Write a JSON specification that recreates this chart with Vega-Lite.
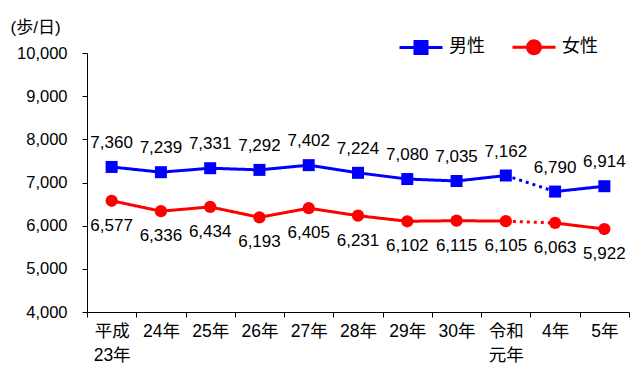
{
  "$schema": "https://vega.github.io/schema/vega-lite/v6.json",
  "width": 542,
  "height": 259,
  "autosize": {"type": "none"},
  "padding": {"left": 87, "top": 53, "right": 2, "bottom": 57},
  "background": "white",
  "config": {
    "font": "Liberation Sans, Noto Sans CJK JP",
    "view": {"stroke": null},
    "axis": {"domainColor": "black", "tickColor": "black", "labelColor": "black", "titleColor": "black", "grid": false, "labelFont": "Liberation Sans, Noto Sans CJK JP", "titleFont": "Liberation Sans, Noto Sans CJK JP"}
  },
  "resolve": {"legend": {"color": "independent"}},
  "datasets": {
    "pts": [
      {"year": "平成23年", "series": "男性", "steps": 7360},
      {"year": "24年", "series": "男性", "steps": 7239},
      {"year": "25年", "series": "男性", "steps": 7331},
      {"year": "26年", "series": "男性", "steps": 7292},
      {"year": "27年", "series": "男性", "steps": 7402},
      {"year": "28年", "series": "男性", "steps": 7224},
      {"year": "29年", "series": "男性", "steps": 7080},
      {"year": "30年", "series": "男性", "steps": 7035},
      {"year": "令和元年", "series": "男性", "steps": 7162},
      {"year": "4年", "series": "男性", "steps": 6790},
      {"year": "5年", "series": "男性", "steps": 6914},
      {"year": "平成23年", "series": "女性", "steps": 6577},
      {"year": "24年", "series": "女性", "steps": 6336},
      {"year": "25年", "series": "女性", "steps": 6434},
      {"year": "26年", "series": "女性", "steps": 6193},
      {"year": "27年", "series": "女性", "steps": 6405},
      {"year": "28年", "series": "女性", "steps": 6231},
      {"year": "29年", "series": "女性", "steps": 6102},
      {"year": "30年", "series": "女性", "steps": 6115},
      {"year": "令和元年", "series": "女性", "steps": 6105},
      {"year": "4年", "series": "女性", "steps": 6063},
      {"year": "5年", "series": "女性", "steps": 5922}
    ],
    "lines": [
      {"year": "平成23年", "series": "男性", "steps": 7360, "seg": "a", "style": "solid"},
      {"year": "24年", "series": "男性", "steps": 7239, "seg": "a", "style": "solid"},
      {"year": "25年", "series": "男性", "steps": 7331, "seg": "a", "style": "solid"},
      {"year": "26年", "series": "男性", "steps": 7292, "seg": "a", "style": "solid"},
      {"year": "27年", "series": "男性", "steps": 7402, "seg": "a", "style": "solid"},
      {"year": "28年", "series": "男性", "steps": 7224, "seg": "a", "style": "solid"},
      {"year": "29年", "series": "男性", "steps": 7080, "seg": "a", "style": "solid"},
      {"year": "30年", "series": "男性", "steps": 7035, "seg": "a", "style": "solid"},
      {"year": "令和元年", "series": "男性", "steps": 7162, "seg": "a", "style": "solid"},
      {"year": "令和元年", "series": "男性", "steps": 7162, "seg": "b", "style": "dotted"},
      {"year": "4年", "series": "男性", "steps": 6790, "seg": "b", "style": "dotted"},
      {"year": "4年", "series": "男性", "steps": 6790, "seg": "c", "style": "solid"},
      {"year": "5年", "series": "男性", "steps": 6914, "seg": "c", "style": "solid"},
      {"year": "平成23年", "series": "女性", "steps": 6577, "seg": "a", "style": "solid"},
      {"year": "24年", "series": "女性", "steps": 6336, "seg": "a", "style": "solid"},
      {"year": "25年", "series": "女性", "steps": 6434, "seg": "a", "style": "solid"},
      {"year": "26年", "series": "女性", "steps": 6193, "seg": "a", "style": "solid"},
      {"year": "27年", "series": "女性", "steps": 6405, "seg": "a", "style": "solid"},
      {"year": "28年", "series": "女性", "steps": 6231, "seg": "a", "style": "solid"},
      {"year": "29年", "series": "女性", "steps": 6102, "seg": "a", "style": "solid"},
      {"year": "30年", "series": "女性", "steps": 6115, "seg": "a", "style": "solid"},
      {"year": "令和元年", "series": "女性", "steps": 6105, "seg": "a", "style": "solid"},
      {"year": "令和元年", "series": "女性", "steps": 6105, "seg": "b", "style": "dotted"},
      {"year": "4年", "series": "女性", "steps": 6063, "seg": "b", "style": "dotted"},
      {"year": "4年", "series": "女性", "steps": 6063, "seg": "c", "style": "solid"},
      {"year": "5年", "series": "女性", "steps": 5922, "seg": "c", "style": "solid"}
    ]
  },
  "encoding": {
    "x": {
      "field": "year", "type": "nominal",
      "scale": {"type": "band", "domain": ["平成23年", "24年", "25年", "26年", "27年", "28年", "29年", "30年", "令和元年", "4年", "5年"], "paddingInner": 0, "paddingOuter": 0},
      "axis": {
        "title": null, "labelAngle": 0, "tickBand": "extent", "tickSize": 5, "labelPadding": 5,
        "labelFontSize": 17.5, "labelLineHeight": 24, "labelBaseline": "top",
        "labelExpr": "datum.value == '平成23年' ? ['平成', '23年'] : datum.value == '令和元年' ? ['令和', '元年'] : datum.value"
      }
    },
    "y": {
      "field": "steps", "type": "quantitative",
      "scale": {"domain": [4000, 10000], "nice": false, "zero": false},
      "axis": {
        "values": [4000, 5000, 6000, 7000, 8000, 9000, 10000], "format": ",.0f", "tickSize": 5, "labelPadding": 15, "labelFontSize": 16.5,
        "title": "(歩/日)", "titleAngle": 0, "titleAlign": "left", "titleBaseline": "middle", "titleX": -77, "titleY": -26, "titleFontSize": 17, "titleFontWeight": "normal"
      }
    }
  },
  "layer": [
    {
      "data": {"name": "lines"},
      "mark": {"type": "line", "strokeWidth": 3},
      "encoding": {
        "color": {
          "field": "series", "type": "nominal",
          "scale": {"domain": ["男性", "女性"], "range": ["#0000ff", "#ff0000"]},
          "legend": {
            "title": null, "orient": "none", "legendX": 311, "legendY": -29, "direction": "horizontal",
            "symbolSize": 1849, "symbolStrokeWidth": 3, "labelFontSize": 18, "labelOffset": 5, "columnPadding": 21, "labelColor": "black",
            "labelFont": "Liberation Sans, Noto Sans CJK JP",
            "encode": {
              "symbols": {
                "update": {
                  "shape": {"signal": "datum.value == '男性' ? 'M-1,0H1M-0.28,-0.28H0.28V0.28H-0.28Z' : 'M-1,0H1M0.3,0A0.3,0.3 0 1 1 -0.3,0A0.3,0.3 0 1 1 0.3,0Z'"},
                  "stroke": {"signal": "datum.value == '男性' ? '#0000ff' : '#ff0000'"},
                  "fill": {"signal": "datum.value == '男性' ? '#0000ff' : '#ff0000'"},
                  "strokeWidth": {"value": 3},
                  "strokeDash": {"value": [1, 0]},
                  "opacity": {"value": 1}
                }
              }
            }
          }
        },
        "detail": {"field": "seg"},
        "strokeDash": {"field": "style", "type": "nominal", "scale": {"domain": ["solid", "dotted"], "range": [[1, 0], [3, 4]]}, "legend": null}
      }
    },
    {
      "data": {"name": "pts"},
      "mark": {"type": "point", "filled": true, "opacity": 1},
      "encoding": {
        "shape": {"field": "series", "type": "nominal", "scale": {"domain": ["男性", "女性"], "range": ["square", "circle"]}, "legend": null},
        "size": {"field": "series", "type": "nominal", "scale": {"domain": ["男性", "女性"], "range": [144, 150]}, "legend": null},
        "color": {"field": "series", "type": "nominal", "scale": {"domain": ["男性", "女性"], "range": ["#0000ff", "#ff0000"]}, "legend": null}
      }
    },
    {
      "data": {"name": "pts"},
      "transform": [{"filter": "datum.series == '男性'"}],
      "mark": {"type": "text", "fontSize": 17, "dy": -24, "color": "black"},
      "encoding": {
        "text": {"field": "steps", "type": "quantitative", "format": ",.0f"}
      }
    },
    {
      "data": {"name": "pts"},
      "transform": [{"filter": "datum.series == '女性'"}],
      "mark": {"type": "text", "fontSize": 17, "dy": 25, "color": "black"},
      "encoding": {
        "text": {"field": "steps", "type": "quantitative", "format": ",.0f"}
      }
    }
  ]
}
